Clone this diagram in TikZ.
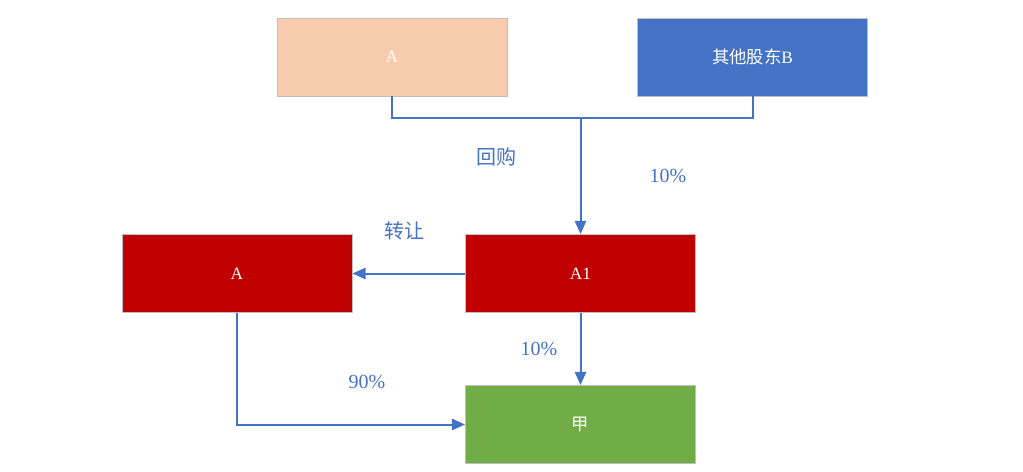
\documentclass[tikz,border=0pt]{standalone}
\usepackage{fontspec}
\setmainfont{Liberation Serif}
\newfontfamily\cjk{Noto Sans CJK SC}
\usepackage{xcolor}
\usetikzlibrary{arrows.meta,positioning}

\definecolor{peach}{HTML}{F8CBAD}
\definecolor{ofblue}{HTML}{4472C4}
\definecolor{ofred}{HTML}{C00000}
\definecolor{ofgreen}{HTML}{70AD47}
\definecolor{edgegray}{HTML}{BFBFBF}

\begin{document}
\begin{tikzpicture}[x=0.75pt,y=-0.75pt,
  box/.style={draw=edgegray, line width=0.6pt, align=center, minimum height=58.5pt, minimum width=172.5pt, font=\fontsize{13}{15}\selectfont, text=white, inner sep=0pt},
  lbl/.style={text=ofblue, font=\fontsize{15}{17}\selectfont, inner sep=0pt},
  conn/.style={draw=ofblue, line width=1.5pt},
  arr/.style={conn, -{Triangle[length=10pt,width=8.5pt]}}
]
\useasboundingbox (0,0) rectangle (1023,471);
% owners (top)
\node[box, fill=peach] (topa) at (392,57)  {A};
\node[box, fill=ofblue] (othb) at (752.5,57) {{\cjk 其他股东}B};
% middle row
\node[box, fill=ofred] (lefta) at (237,273.5) {A};
\node[box, fill=ofred] (a1)    at (580.5,273.5) {A1};
% target (bottom)
\node[box, fill=ofgreen] (jia) at (580.5,424.5) {\cjk 甲};
\coordinate (bus) at (580.5,118);
% labels
\node[lbl] (buyback) at (496,157) {\cjk 回购};
\node[lbl] (pcttop)  at (668,176) {10\%};
\node[lbl] (transfer) at (404,231) {\cjk 转让};
\node[lbl] (pctmid)  at (539,349) {10\%};
\node[lbl] (pctleft) at (367,382) {90\%};
\draw[conn] (topa.south) |- (bus);
\draw[conn] (othb.south) |- (bus);
\draw[arr] (bus) -- (a1.north);
\draw[arr] (a1.west) -- (lefta.east);
\draw[arr] (a1.south) -- (jia.north);
\draw[arr] (lefta.south) |- (jia.west);
\end{tikzpicture}
\end{document}
